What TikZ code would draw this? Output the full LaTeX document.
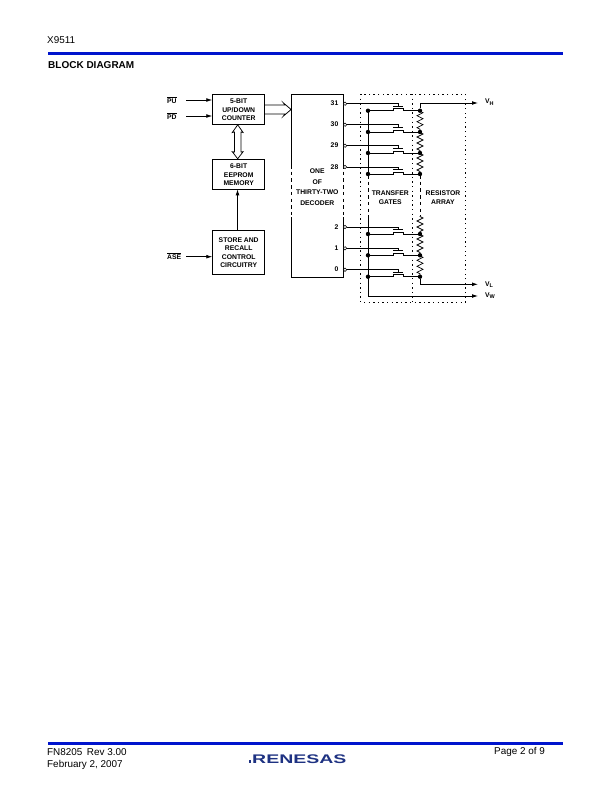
\documentclass[tikz,border=0pt]{standalone}
\usepackage{fontspec}
\setmainfont{Liberation Sans}
\usetikzlibrary{arrows.meta,decorations.pathmorphing}
\definecolor{rblue}{RGB}{0,20,205}
\definecolor{logoblue}{RGB}{30,50,130}
\tikzset{
  x=1pt,y=-1pt,
  wire/.style={draw=black,line width=0.75pt},
  arrowwire/.style={wire,-{Latex[length=6pt,width=3.8pt]}},
  blockbox/.style={draw=black,line width=0.8pt,align=center,font=\fontsize{6.8}{8.5}\selectfont\bfseries,inner sep=0pt,anchor=north west},
  lab/.style={font=\fontsize{6.8}{7}\selectfont\bfseries,inner sep=0pt},
  page/.style={font=\fontsize{9.9}{10}\selectfont,inner sep=0pt,anchor=west},
  dotted box/.style={draw=black,line width=1pt,dash pattern=on 1.3pt off 3.3pt},
  dashed bus/.style={draw=black,line width=0.8pt,dash pattern=on 3.5pt off 3.2pt},
  bullet/.style={circle,fill=black,inner sep=0pt,minimum size=4.4pt},
  pinc/.style={circle,draw=black,line width=0.5pt,fill=white,inner sep=0pt,minimum size=3.4pt},
  res/.style={wire,decoration={zigzag,segment length=6pt,amplitude=3pt,pre length=0.5pt,post length=0.5pt},decorate},
}
\newcommand{\gatecell}[4]{% #1 name, #2 input y, #3 output y, #4 label
  \node[pinc] (p#1) at (345,#2) {};
  \node[lab,anchor=east] (l#1) at (338.5,#2-0.3) {#4};
  \node[bullet] (a#1) at (368,#3) {};
  \node[bullet] (b#1) at (420,#3) {};
  \coordinate (g#1) at (398.3,#3-4.6);
  \draw[wire] (p#1) -- (398.3,#2) -- (g#1);
  \draw[wire,line width=1pt] (393.3,#3-4.6) -- (403.3,#3-4.6);
  \draw[wire] (a#1) -- (393.3,#3) -- (393.3,#3-2) -- (403.3,#3-2) -- (403.3,#3) -- (b#1);
}
\begin{document}
\begin{tikzpicture}
\useasboundingbox (0,0) rectangle (612,792);
\fill[white] (0,0) rectangle (612,792);
% page furniture
\node[page] (hd) at (47,40.5) {X9511};
\fill[rblue] (48,51.8) rectangle (563,54.8);
\node[page,font=\fontsize{10}{10}\selectfont\bfseries] (ti) at (48,65.5) {BLOCK DIAGRAM};
\fill[rblue] (48,741.5) rectangle (563,744.5);
\node[page] (f1) at (47,752) {FN8205\hspace{4.5pt}Rev 3.00};
\node[page] (f2) at (47,764.5) {February 2, 2007};
\node[page] (f3) at (494,752) {Page 2 of 9};
\fill[logoblue] (248.5,760.3) rectangle (251.3,763);
\node[inner sep=0pt,text=logoblue,anchor=west,font=\fontsize{12.5}{13}\selectfont\bfseries] (logo) at (252,759) {\scalebox{1.56}[1]{RENESAS}};
% blocks
\node[blockbox,minimum width=52pt,minimum height=30pt] (cnt) at (212.3,94.3) {5-BIT\\UP/DOWN\\COUNTER};
\node[blockbox,minimum width=52pt,minimum height=30pt] (eep) at (212.3,159.3) {6-BIT\\EEPROM\\MEMORY};
\node[blockbox,minimum width=52pt,minimum height=44pt] (sto) at (212.3,230.3) {STORE AND\\RECALL\\CONTROL\\CIRCUITRY};
% decoder
\coordinate (dtl) at (291.3,94.3);
\coordinate (dtr) at (343.5,94.3);
\coordinate (dbl) at (291.3,277.3);
\coordinate (dbr) at (343.5,277.3);
\draw[wire,line width=0.8pt] (291.3,165) -- (dtl) -- (dtr) -- (343.5,165);
\draw[wire,line width=0.8pt] (291.3,217) -- (dbl) -- (dbr) -- (343.5,217);
\draw[dashed bus] (291.3,165) -- (291.3,217);
\draw[dashed bus] (343.5,165) -- (343.5,217);
\node[lab,align=center,font=\fontsize{6.8}{10.6}\selectfont\bfseries] (dec) at (317.3,187) {ONE\\OF\\THIRTY-TWO\\DECODER};
% inputs
\node[lab,anchor=west] (pu) at (167,100) {$\overline{\mbox{PU}}$};
\node[lab,anchor=west] (pd) at (167,116) {$\overline{\mbox{PD}}$};
\node[lab,anchor=west] (ase) at (167,255.7) {$\overline{\mbox{ASE}}$};
\coordinate (cntpu) at (212.3,100);
\coordinate (cntpd) at (212.3,116);
\coordinate (stoa) at (212.3,256.7);
\coordinate (sto1) at (237.5,230.3);
\coordinate (eep1) at (237.5,189.3);
\draw[arrowwire] (186,100) -- (cntpu);
\draw[arrowwire] (186,116) -- (cntpd);
\draw[arrowwire] (186,256.7) -- (stoa);
\draw[arrowwire] (sto1) -- (eep1);
% double arrow counter <-> eeprom
\draw[wire] (237.7,124.8) -- (232.3,132.5) -- (234.4,132) -- (234.4,152) -- (232.3,151.7) -- (237.7,158.8) -- (243.1,151.7) -- (241,152) -- (241,132) -- (243.1,132.5) -- cycle;
% bus arrow counter -> decoder
\coordinate (tip) at (291.1,109.5);
\draw[wire] (264.5,105) -- (285,105) -- (283.5,103) -- (tip) -- (283.5,116) -- (285,114) -- (264.5,114);
% transfer gates / resistor array boxes
\draw[dotted box] (360.7,94) rectangle (465.3,302.3);
\draw[dotted box] (412.3,94) -- (412.3,302.3);
% buses
\draw[wire] (368,110.7) -- (368,175);
\draw[dashed bus] (368,175) -- (368,216);
\draw[wire] (368,216) -- (368,296);
\draw[dashed bus] (420,175) -- (420,216);
% gates
\gatecell{31}{103.7}{110.7}{31}
\gatecell{30}{124.7}{132}{30}
\gatecell{29}{145.7}{153}{29}
\gatecell{28}{167}{174}{28}
\gatecell{2}{227}{234}{2}
\gatecell{1}{248.3}{255.3}{1}
\gatecell{0}{269.7}{276.7}{0}
% resistors
\draw[res] (b31.center) -- (b30.center);
\draw[res] (b30.center) -- (b29.center);
\draw[res] (b29.center) -- (b28.center);
\coordinate (rtop) at (420,216);
\draw[res] (rtop) -- (b2.center);
\draw[res] (b2.center) -- (b1.center);
\draw[res] (b1.center) -- (b0.center);
% outputs
\coordinate (vh) at (478,103);
\coordinate (vl) at (478,284.3);
\coordinate (vw) at (478,296);
\coordinate (bw) at (368,296);
\draw[arrowwire] (b31) -- (420,103) -- (vh);
\draw[arrowwire] (b0) -- (420,284.3) -- (vl);
\draw[arrowwire] (bw) -- (vw);
\node[lab,anchor=west] (lvh) at (485,102) {V\raisebox{-1.5pt}{\fontsize{5.5}{5.5}\selectfont H}};
\node[lab,anchor=west] (lvl) at (485,284.5) {V\raisebox{-1.5pt}{\fontsize{5.5}{5.5}\selectfont L}};
\node[lab,anchor=west] (lvw) at (485,295.5) {V\raisebox{-1.5pt}{\fontsize{5.5}{5.5}\selectfont W}};
\node[lab,align=center,font=\fontsize{6.8}{9}\selectfont\bfseries] (tg) at (390.3,197.8) {TRANSFER\\GATES};
\node[lab,align=center,font=\fontsize{6.8}{9}\selectfont\bfseries] (ra) at (443,197.8) {RESISTOR\\ARRAY};
\end{tikzpicture}
\end{document}
